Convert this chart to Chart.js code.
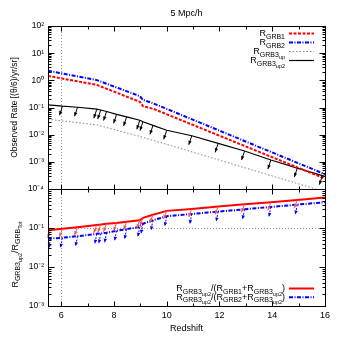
<!DOCTYPE html>
<html>
<head>
<meta charset="utf-8">
<script src="https://cdn.jsdelivr.net/npm/chart.js@4"></script>
<style>
  html, body { margin: 0; padding: 0; background: #fff; }
  #chart { display: block; }
</style>
</head>
<body>
<canvas id="chart" width="338" height="346"></canvas>
<script>
const FONT = "'Liberation Sans', Arial, sans-serif";

// --- top panel: observed rates ---
const rateX = [5.5, 7.35, 8.98, 9.1, 9.5, 16];
const rateGRB1 = [1.45, 0.68, 0.162, 0.112, 0.089, 0.00024];
const rateGRB2 = [2.24, 1.02, 0.263, 0.19, 0.141, 0.00035];
const up1X = [5.5, 7.35, 9.0, 10.0, 16];
const rateGRB3up = [0.037, 0.0229, 0.0085, 0.0044, 0.000079];
const up2X = [5.5, 6.05, 6.62, 7.35, 7.5, 7.72, 8.1, 8.48, 8.98, 9.1, 9.48, 10.0, 10.95, 11.95, 12.95, 13.95, 14.95, 15.9, 16];
const rateGRB3up2 = [0.126, 0.112, 0.102, 0.087, 0.081, 0.071, 0.056, 0.045, 0.034, 0.030, 0.022, 0.0145, 0.0091, 0.0048, 0.0025, 0.00117, 0.00059, 0.00031, 0.00029];

// --- bottom panel: ratios ---
const ratioX = [5.5, 5.6, 6.05, 6.62, 7.35, 7.5, 7.72, 8.1, 8.48, 8.98, 9.1, 9.48, 10.0, 10.95, 11.95, 12.95, 13.95, 14.95, 16];
const ratio1 = [0.087, 0.089, 0.095, 0.105, 0.120, 0.123, 0.129, 0.135, 0.145, 0.158, 0.182, 0.219, 0.275, 0.309, 0.355, 0.407, 0.457, 0.525, 0.603];
const ratio2 = [0.0525, 0.0537, 0.0562, 0.0617, 0.0708, 0.0724, 0.0759, 0.0851, 0.0933, 0.107, 0.129, 0.158, 0.200, 0.229, 0.263, 0.302, 0.347, 0.398, 0.457];

const xTicks = [6, 8, 10, 12, 14, 16];
const topTicks = [1e-4, 1e-3, 1e-2, 1e-1, 1, 10, 100];
const botTicks = [1e-3, 1e-2, 1e-1];
const guideX = 6;
const guideRatio = 0.1;

const pts = (xs, ys) => xs.map((x, i) => ({ x, y: ys[i] }));

const SUP = { '-': '⁻', '0': '⁰', '1': '¹', '2': '²', '3': '³', '4': '⁴', '5': '⁵', '6': '⁶', '7': '⁷', '8': '⁸', '9': '⁹' };
function powLabel(v) {
  const e = String(Math.round(Math.log10(v)));
  return '10' + e.split('').map((c) => SUP[c]).join('');
}

// rich text with sub / sub-sub levels
const richSize = [9, 7, 5.5];
const richDrop = [0, 2.5, 4.5];
function richWidth(ctx, parts) {
  let w = 0;
  parts.forEach(([t, l]) => {
    ctx.font = richSize[l] + 'px ' + FONT;
    w += ctx.measureText(t).width;
  });
  return w;
}
function drawRich(ctx, parts, x, y, align) {
  const w = richWidth(ctx, parts);
  let cx = align === 'right' ? x - w : align === 'center' ? x - w / 2 : x;
  ctx.textAlign = 'left';
  ctx.textBaseline = 'alphabetic';
  parts.forEach(([t, l]) => {
    ctx.font = richSize[l] + 'px ' + FONT;
    ctx.fillText(t, cx, y + richDrop[l]);
    cx += ctx.measureText(t).width;
  });
}

const topLegend = [
  { parts: [['R', 0], ['GRB1', 1]], color: '#ff0000', width: 2, dash: [3, 1.5] },
  { parts: [['R', 0], ['GRB2', 1]], color: '#0000ff', width: 2, dash: [4, 1.5, 1, 1.5] },
  { parts: [['R', 0], ['GRB3', 1], ['up', 2]], color: '#808080', width: 1, dash: [1.5, 2] },
  { parts: [['R', 0], ['GRB3', 1], ['up2', 2]], color: '#000000', width: 1.2, dash: [] },
];
const botLegend = [
  { parts: [['R', 0], ['GRB3', 1], ['up2', 2], ['/(R', 0], ['GRB1', 1], ['+R', 0], ['GRB3', 1], ['up2', 2], [')', 0]], color: '#ff0000', width: 2, dash: [] },
  { parts: [['R', 0], ['GRB3', 1], ['up2', 2], ['/(R', 0], ['GRB2', 1], ['+R', 0], ['GRB3', 1], ['up2', 2], [')', 0]], color: '#0000ff', width: 2, dash: [4, 1.5, 1, 1.5] },
];

function drawLegend(ctx, rows, firstY, step) {
  rows.forEach((r, i) => {
    const y = firstY + i * step;
    ctx.save();
    ctx.strokeStyle = r.color;
    ctx.lineWidth = r.width;
    ctx.setLineDash(r.dash);
    ctx.beginPath();
    ctx.moveTo(289, y);
    ctx.lineTo(314, y);
    ctx.stroke();
    ctx.restore();
    ctx.fillStyle = '#000';
    drawRich(ctx, r.parts, 285, y + 2.5, 'right');
  });
}

const panelPlugin = {
  id: 'panels',
  beforeDatasetsDraw(chart) {
    const { ctx, scales: { x, yTop, yBot } } = chart;
    ctx.save();
    ctx.strokeStyle = '#9a9a9a';
    ctx.lineWidth = 1;
    ctx.setLineDash([1, 2]);
    ctx.beginPath();
    const gx = Math.round(x.getPixelForValue(guideX)) + 0.5;
    ctx.moveTo(gx, yTop.top);
    ctx.lineTo(gx, yBot.bottom);
    const gy = Math.round(yBot.getPixelForValue(guideRatio)) + 0.5;
    ctx.moveTo(x.left, gy);
    ctx.lineTo(x.right, gy);
    ctx.stroke();
    ctx.restore();
  },
  afterDatasetsDraw(chart) {
    const { ctx } = chart;
    chart.data.datasets.forEach((ds, i) => {
      if (!ds.limits) return;
      const { color, dash, dx, dy } = ds.limits;
      const len = Math.hypot(dx, dy), ux = dx / len, uy = dy / len;
      ctx.save();
      ctx.strokeStyle = color;
      ctx.fillStyle = color;
      ctx.lineWidth = 1;
      chart.getDatasetMeta(i).data.slice(1, -1).forEach((p) => {
        const ex = p.x + dx, ey = p.y + dy;
        ctx.setLineDash(dash);
        ctx.beginPath();
        ctx.moveTo(p.x, p.y);
        ctx.lineTo(ex, ey);
        ctx.stroke();
        ctx.setLineDash([]);
        ctx.beginPath();
        ctx.moveTo(ex, ey);
        ctx.lineTo(ex - ux * 4 - uy * 1.7, ey - uy * 4 + ux * 1.7);
        ctx.lineTo(ex - ux * 4 + uy * 1.7, ey - uy * 4 - ux * 1.7);
        ctx.closePath();
        ctx.fill();
      });
      ctx.restore();
    });
  },
  afterDraw(chart) {
    const { ctx, scales: { x, yTop, yBot } } = chart;
    ctx.save();
    ctx.strokeStyle = '#000';
    ctx.lineWidth = 1;
    [yTop, yBot].forEach((s) => {
      const l = Math.round(x.left) + 0.5, r = Math.round(x.right) + 0.5;
      const t = Math.round(s.top) + 0.5, b = Math.round(s.bottom) + 0.5;
      ctx.strokeRect(l, t, r - l, b - t);
      ctx.beginPath();
      const e0 = Math.round(Math.log10(s.min)), e1 = Math.round(Math.log10(s.max));
      for (let e = e0; e <= e1; e++) {
        for (let k = 1; k <= 9; k++) {
          const v = k * Math.pow(10, e);
          if (v > s.max * 1.0001) continue;
          const py = Math.round(s.getPixelForValue(v)) + 0.5;
          const n = k === 1 ? 6 : 3;
          ctx.moveTo(l, py); ctx.lineTo(l + n, py);
          ctx.moveTo(r, py); ctx.lineTo(r - n, py);
        }
      }
      for (let v = 6; v <= 16; v++) {
        const px = Math.round(x.getPixelForValue(v)) + 0.5;
        const n = v % 2 === 0 ? 5 : 3;
        ctx.moveTo(px, t); ctx.lineTo(px, t + n);
        ctx.moveTo(px, b); ctx.lineTo(px, b - n);
      }
      ctx.stroke();
    });
    ctx.restore();

    drawLegend(ctx, topLegend, 33.5, 9);
    drawLegend(ctx, botLegend, 288.5, 8.8);

    ctx.save();
    ctx.fillStyle = '#000';
    ctx.translate(17.5, (yBot.top + yBot.bottom) / 2 + 7);
    ctx.rotate(-Math.PI / 2);
    drawRich(ctx, [['R', 0], ['GRB3', 1], ['up2', 2], ['/R', 0], ['GRB', 1], ['Tot', 2]], 0, 0, 'center');
    ctx.restore();
  },
};

new Chart(document.getElementById('chart'), {
  type: 'line',
  data: {
    datasets: [
      { label: 'R_GRB1', data: pts(rateX, rateGRB1), yAxisID: 'yTop', borderColor: '#ff0000', borderWidth: 2, borderDash: [3, 1.5] },
      { label: 'R_GRB2', data: pts(rateX, rateGRB2), yAxisID: 'yTop', borderColor: '#0000ff', borderWidth: 2, borderDash: [4, 1.5, 1, 1.5] },
      { label: 'R_GRB3up', data: pts(up1X, rateGRB3up), yAxisID: 'yTop', borderColor: '#808080', borderWidth: 1, borderDash: [1.5, 2] },
      { label: 'R_GRB3up2', data: pts(up2X, rateGRB3up2), yAxisID: 'yTop', borderColor: '#000000', borderWidth: 1.2,
        limits: { color: '#000000', dash: [], dx: -3, dy: 9 } },
      { label: 'ratio1', data: pts(ratioX, ratio1), yAxisID: 'yBot', borderColor: '#ff0000', borderWidth: 2,
        limits: { color: '#ff5050', dash: [], dx: -3, dy: 8 } },
      { label: 'ratio2', data: pts(ratioX, ratio2), yAxisID: 'yBot', borderColor: '#0000ff', borderWidth: 2, borderDash: [4, 1.5, 1, 1.5],
        limits: { color: '#0000ff', dash: [2, 1.5], dx: -2, dy: 10 } },
    ],
  },
  options: {
    responsive: false,
    devicePixelRatio: 1,
    animation: false,
    events: [],
    elements: { point: { radius: 0 }, line: { tension: 0 } },
    layout: { padding: { left: 0, right: 13, top: 0, bottom: 0 } },
    plugins: {
      legend: { display: false },
      tooltip: { enabled: false },
      title: {
        display: true,
        text: '5 Mpc/h',
        fullSize: false,
        color: '#000',
        font: { family: FONT, size: 9, weight: 'normal' },
        padding: { top: 8, bottom: 7.2 },
      },
    },
    scales: {
      x: {
        type: 'linear',
        min: 5.5,
        max: 16,
        afterBuildTicks: (s) => { s.ticks = xTicks.map((v) => ({ value: v })); },
        afterFit: (s) => { s.height = 40; },
        ticks: { color: '#000', font: { family: FONT, size: 9 }, padding: 4, maxRotation: 0, autoSkip: false },
        grid: { display: false, drawTicks: false },
        border: { display: false },
        title: { display: true, text: 'Redshift', color: '#000', font: { family: FONT, size: 9 }, padding: { top: 0, bottom: 12.5 } },
      },
      yBot: {
        type: 'logarithmic',
        position: 'left',
        stack: 'panels',
        stackWeight: 117,
        min: 1e-3,
        max: 1,
        afterBuildTicks: (s) => { s.ticks = botTicks.map((v) => ({ value: v })); },
        afterFit: (s) => { s.width = 48; },
        ticks: { color: '#000', font: { family: FONT, size: 8.5 }, padding: 4, callback: (v) => powLabel(v) },
        grid: { display: false, drawTicks: false },
        border: { display: false },
      },
      yTop: {
        type: 'logarithmic',
        position: 'left',
        stack: 'panels',
        stackWeight: 163,
        min: 1e-4,
        max: 100,
        afterBuildTicks: (s) => { s.ticks = topTicks.map((v) => ({ value: v })); },
        afterFit: (s) => { s.width = 48; },
        ticks: { color: '#000', font: { family: FONT, size: 8.5 }, padding: 4, callback: (v) => powLabel(v) },
        grid: { display: false, drawTicks: false },
        border: { display: false },
        title: { display: true, text: 'Observed Rate [(θ/6)/yr/sr]', color: '#000', font: { family: FONT, size: 8.5 }, padding: { top: 10, bottom: 0 } },
      },
    },
  },
  plugins: [panelPlugin],
});
</script>
</body>
</html>
